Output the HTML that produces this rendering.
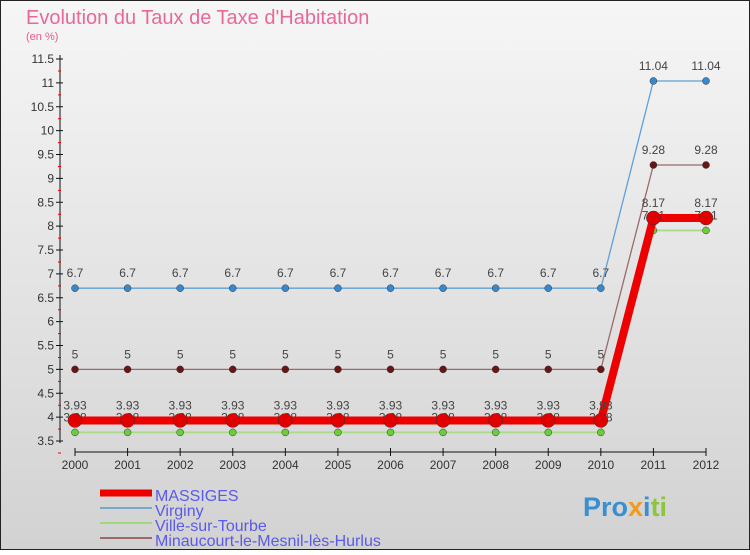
<!DOCTYPE html>
<html><head><meta charset="utf-8"><style>
body{margin:0}
svg text{font-family:"Liberation Sans",sans-serif}
</style></head><body>
<svg id="c" width="750" height="550" xmlns="http://www.w3.org/2000/svg">
<defs><linearGradient id="bg" x1="0" y1="0" x2="0" y2="1"><stop offset="0" stop-color="#f6f6f6"/><stop offset="1" stop-color="#d2d2d2"/></linearGradient></defs>
<rect x="0.5" y="0.5" width="749" height="549" fill="url(#bg)" stroke="#222"/>
<text x="26" y="24" font-size="20" fill="#e8689a">Evolution du Taux de Taxe d'Habitation</text>
<text x="26" y="40" font-size="11" fill="#e8578a">(en %)</text>
<g id="axes"></g><g id="series"></g><g id="legend"></g>
<text x="583" y="516" font-size="27" font-weight="bold" fill="#3a8fd0">Pro<tspan fill="#f29a1e">x</tspan><tspan fill="#3a8fd0">i</tspan><tspan fill="#8cc63f">ti</tspan></text>
</svg>
<script>
const years=["2000","2001","2002","2003","2004","2005","2006","2007","2008","2009","2010","2011","2012"];
const yTicks=[3.5,4,4.5,5,5.5,6,6.5,7,7.5,8,8.5,9,9.5,10,10.5,11,11.5];
const massiges=[3.93,3.93,3.93,3.93,3.93,3.93,3.93,3.93,3.93,3.93,3.93,8.17,8.17];
const virginy=[6.7,6.7,6.7,6.7,6.7,6.7,6.7,6.7,6.7,6.7,6.7,11.04,11.04];
const ville=[3.68,3.68,3.68,3.68,3.68,3.68,3.68,3.68,3.68,3.68,3.68,7.91,7.91];
const minau=[5,5,5,5,5,5,5,5,5,5,5,9.28,9.28];
const NS="http://www.w3.org/2000/svg";
const X=i=>75+i*(706-75)/12, Y=v=>441-(v-3.5)*(382/8);
function mk(p,t,a){const e=document.createElementNS(NS,t);for(const k in a)e.setAttribute(k,a[k]);p.appendChild(e);return e;}
const ax=document.getElementById('axes');
let yl=mk(ax,'line',{x1:60,y1:55,x2:60,y2:443,stroke:'#111'});


yTicks.forEach(v=>{const y=Y(v);
mk(ax,'line',{x1:56,y1:y,x2:63,y2:y,stroke:'#111'});
mk(ax,'line',{x1:58,y1:y+12,x2:61,y2:y+12,stroke:'#e00'});
const t=mk(ax,'text',{x:54,y:y+4,'font-size':12,'text-anchor':'end',fill:'#333'});t.textContent=v;

});
let xl=mk(ax,'line',{x1:75,y1:452,x2:706,y2:452,stroke:'#111'});


years.forEach((yr,i)=>{mk(ax,'line',{x1:X(i),y1:448,x2:X(i),y2:456,stroke:'#111'});
const t=mk(ax,'text',{x:X(i),y:469,'font-size':12,'text-anchor':'middle',fill:'#333'});t.textContent=yr;

});
const sg=document.getElementById('series');
const S=[[virginy,'#5fa0d8','#3a88cc',1.3,3.5,'virginy'],[minau,'#9a6a6a','#6a1515',1.3,3.5,'minaucourt'],[ville,'#a8dc88','#6ccc3c',1.8,3.5,'ville-sur-tourbe'],[massiges,'#ee0000','#e00000',8,7,'massiges']];
S.forEach(([d,lc,pc,w,r,n])=>{
const pl=mk(sg,'polyline',{points:d.map((v,i)=>X(i)+','+Y(v)).join(' '),fill:'none',stroke:lc,'stroke-width':w});


d.forEach((v,i)=>{const c=mk(sg,'circle',{cx:X(i),cy:Y(v),r:r,fill:pc,stroke:'#333','stroke-width':0.5});


const t=mk(sg,'text',{x:X(i),y:Y(v)-11,'font-size':12,'text-anchor':'middle',fill:'#444'});t.textContent=v;

});});
const lg=document.getElementById('legend');
[['MASSIGES','#ee0000',7],['Virginy','#7aa8c8',2],['Ville-sur-Tourbe','#9cd87c',2],['Minaucourt-le-Mesnil-lès-Hurlus','#9a6a6a',2]].forEach(([n,c,w],i)=>{
const y=493+i*15;
const l=mk(lg,'line',{x1:100,y1:y,x2:152,y2:y,stroke:c,'stroke-width':w});


const t=mk(lg,'text',{x:155,y:y+8,'font-size':16,fill:'#5a5ae8'});t.textContent=n;

});
</script>
</body></html>
